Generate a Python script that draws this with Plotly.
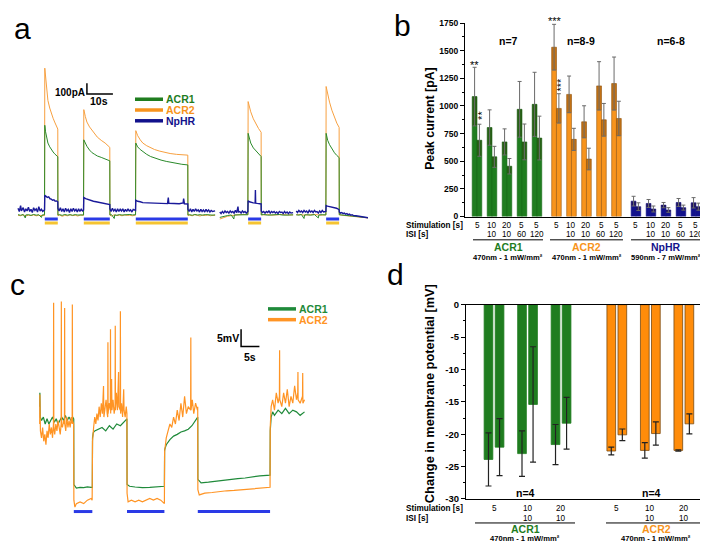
import plotly.graph_objects as go

W, H = 708, 542
FONT = "Liberation Sans, Arial, sans-serif"


def X(px):
    return px / W


def Y(py):
    return 1 - py / H


GREEN = "#1f7d1f"
ORANGE = "#f7941d"
NAVY = "#12128c"
TR_GREEN = "#2a8a2a"
TR_ORANGE = "#f7a040"
TR_BLUE = "#1a1a9a"
C_GREEN = "#1f8a3a"
C_ORANGE = "#ff9424"
LIGHT_BLUE = "#2a3ae6"
LIGHT_YELLOW = "#f5c431"

# ---------------- Panel a : example photocurrents (time s, current pA) ----------------
a_pulse_on = [10.3, 25.3, 45.3, 88.5, 118.5]
a_pulse_off = [15.3, 35.3, 65.3, 93.5, 123.5]

a_acr2 = [
    [(0, -25), (1, -30), (2, -20), (3, -32), (4, -25), (5, -28), (6, -22), (7, -30), (8, -26), (9, -24), (10.2, -28),
     (10.3, 1340), (10.9, 1160), (11.5, 1040), (12.2, 970), (12.8, 920), (13.5, 875), (14.1, 840), (14.7, 805), (15.3, 775),
     (15.35, -30), (16, -22), (17, -35), (18, -25), (19, -30), (20, -20), (21, -28), (22, -25), (23, -32), (24, -22), (25.2, -26),
     (25.3, 955), (25.9, 890), (26.5, 840), (27.5, 795), (28.5, 760), (29.5, 730), (30.5, 700), (32, 670), (33.5, 645), (35.3, 605),
     (35.35, -25), (36, -32), (37, -20), (38, -28), (39, -24), (40, -30), (41, -22), (42, -27), (43, -25), (44, -30), (45.2, -24),
     (45.3, 760), (46, 715), (47, 675), (48, 645), (49.5, 620), (51, 600), (52.5, 585), (54.5, 570), (56.5, 556), (58.5, 548),
     (61, 540), (63, 536), (65.3, 533),
     (65.35, -28), (66, -24), (67, -30), (68, -20), (69, -26), (70, -32), (71, -24), (72, -28), (73, -22), (74, -30), (75, -25), (75.8, -27)],
    [(77.6, -60), (79, -45), (80.5, -35), (82, -28), (83.5, -22), (85, -20), (86.5, -18), (88.4, -20),
     (88.5, 1030), (89, 975), (89.5, 935), (90.5, 870), (91.5, 820), (92.5, 780), (93.5, 745),
     (93.55, -20), (94.5, -22), (96, -18), (97.5, -24), (99, -20), (100.5, -22), (102, -18), (103.5, -23), (105, -20), (105.8, -22)],
    [(107, -22), (108.5, -18), (110, -24), (111.5, -20), (113, -22), (114.5, -18), (116, -24), (117.5, -20), (118.4, -22),
     (118.5, 1170), (119.1, 1090), (119.8, 1025), (120.7, 950), (121.7, 875), (122.6, 830), (123.5, 790),
     (123.55, -20), (124.5, -25), (126, -28), (128, -32), (130, -38), (132, -42), (134.6, -50)],
]

a_acr1 = [
    [(0, -20), (1, -25), (2, -18), (2.8, -50), (3, -22), (4, -20), (5, -26), (6, -18), (7, -24), (8, -20), (9, -45), (9.3, -22), (10.2, -20),
     (10.3, 810), (10.6, 750), (10.9, 705), (11.5, 645), (12.2, 610), (12.8, 585), (13.5, 562), (14.1, 545), (14.7, 530), (15.3, 518),
     (15.35, -22), (16, -20), (17, -26), (18, -18), (19, -24), (20, -20), (21, -25), (22, -19), (23, -23), (24, -20), (25.2, -22),
     (25.3, 675), (25.9, 640), (26.5, 615), (27.5, 580), (28.5, 555), (29.5, 540), (30.5, 525), (32, 512), (33.5, 500), (35.3, 480),
     (35.35, -22), (36, -20), (37, -55), (37.2, -22), (38, -25), (39, -19), (40, -23), (41, -20), (42, -24), (43, -18), (44, -22), (45.2, -20),
     (45.3, 645), (46, 610), (47, 585), (48, 565), (49.5, 540), (51, 520), (53, 500), (55, 487), (57, 475), (59, 465), (61, 455), (63, 448), (65.3, 442),
     (65.35, -22), (66, -20), (67, -25), (68, -18), (69, -23), (70, -20), (71, -24), (72, -19), (73, -22), (74, -20), (75, -24), (75.8, -21)],
    [(77.6, -45), (79, -35), (80.5, -28), (82, -22), (83, -60), (83.2, -22), (84.5, -20), (86, -18), (87.5, -22), (88.4, -20),
     (88.5, 735), (89, 680), (89.5, 645), (90.5, 600), (91.5, 570), (92.5, 540), (93.5, 520),
     (93.55, -22), (94.5, -18), (96, -24), (97.5, -20), (99, -22), (100.5, -18), (102, -24), (103.5, -20), (105, -22), (105.8, -21)],
    [(107, -20), (108, -24), (109, -18), (110, -55), (110.2, -22), (111, -20), (112.5, -24), (114, -19), (115.5, -50), (115.7, -22), (117, -20), (118.4, -22),
     (118.5, 735), (119.1, 670), (119.8, 630), (120.7, 590), (121.7, 555), (122.6, 530), (123.5, 510),
     (123.55, -20), (124.5, -22), (126, -28), (128, -30), (130, -35), (132, -40), (134.6, -48)],
]

a_nphr = [
    [(0, 40), (0.5, 10), (1, 65), (1.3, 15), (2, 45), (2.5, 5), (3, 35), (3.5, 15), (4, 50), (4.5, 10), (5, 30), (5.5, 0), (6, 45),
     (6.5, 20), (7, 35), (7.5, 5), (8, 55), (8.5, 15), (9, 30), (9.5, 10), (10.2, 25),
     (10.3, 160), (10.8, 150), (11.3, 140), (11.8, 145), (12.3, 128), (12.8, 125), (13.3, 115), (13.8, 118), (14.3, 105), (14.8, 108), (15.3, 100),
     (15.35, 40), (15.8, 15), (16.3, 45), (16.8, 10), (17.3, 35), (17.8, 5), (18.3, 40), (18.8, 15), (19.3, 30), (19.8, 0), (20.3, 35),
     (20.8, 10), (21.3, 40), (21.8, 15), (22.3, 30), (22.8, 5), (23.3, 35), (23.8, 10), (24.3, 30), (24.8, 15), (25.2, 25),
     (25.3, 140), (26, 130), (27, 120), (28, 115), (29, 105), (30, 100), (31, 95), (32, 92), (33, 85), (34, 80), (35.3, 75),
     (35.35, 35), (35.8, 10), (36.3, 40), (36.8, 15), (37.3, 30), (37.8, 5), (38.3, 35), (38.8, 10), (39.3, 30), (39.8, 15), (40.3, 35),
     (40.8, 5), (41.3, 30), (41.8, 10), (42.3, 35), (42.8, 15), (43.3, 25), (43.8, 5), (44.3, 30), (45.2, 20),
     (45.3, 115), (46, 105), (47, 100), (48, 92), (50, 90), (52, 88), (54, 85), (56, 86), (57.5, 83), (57.8, 140), (58, 85),
     (60, 84), (62, 82), (63.5, 90), (63.7, 130), (64, 82), (65.3, 80),
     (65.35, 30), (65.8, 10), (66.3, 35), (66.8, 5), (67.3, 30), (67.8, 10), (68.3, 35), (68.8, 15), (69.3, 25), (69.8, 5), (70.3, 30),
     (70.8, 10), (71.3, 25), (71.8, 5), (72.3, 30), (72.8, 10), (73.3, 25), (73.8, 5), (74.3, 20), (74.8, 10), (75.8, 15)],
    [(77.6, 5), (78.1, -10), (78.6, 10), (79.1, -5), (79.6, 15), (80.1, 0), (80.6, 10), (81.1, -5), (81.6, 15), (82.1, 0), (82.6, 10),
     (83.1, -5), (83.6, 20), (84.1, 0), (84.6, 55), (84.8, 5), (85.3, 10), (85.8, -5), (86.3, 15), (86.8, 0), (87.3, 10), (87.8, -5), (88.4, 10),
     (88.5, 110), (89, 100), (89.5, 95), (90, 92), (90.5, 90), (91.2, 88), (91.3, 210), (91.4, 88), (92, 85), (92.8, 82), (93.5, 80),
     (93.55, 15), (94, 0), (94.5, 10), (95, -5), (95.5, 10), (96, 0), (96.5, 15), (97, -5), (97.5, 10), (98, 0), (98.5, 10), (99, -5),
     (99.5, 5), (100, -10), (100.5, 10), (101, 0), (101.5, 5), (102, -10), (102.5, 10), (103, -5), (103.5, 5), (104, -10), (104.5, 5),
     (105, -5), (105.8, 0)],
    [(107, 15), (107.5, 0), (108, 20), (108.5, 5), (109, 15), (109.5, 0), (110, 20), (110.5, 5), (111, 15), (111.5, -5), (112, 20),
     (112.5, 5), (113, 15), (113.5, 0), (114, 20), (114.5, 5), (115, 10), (115.5, -5), (116, 15), (116.5, 0), (117, 20), (117.5, 5), (118.4, 10),
     (118.5, 65), (119, 60), (119.5, 58), (120, 55), (120.5, 52), (121, 50), (121.5, 48), (122, 45), (122.5, 40), (123, 35), (123.5, 25),
     (123.55, 5), (124, -5), (124.5, 0), (125, -10), (125.5, -5), (126, -15), (126.5, -10), (127, -20), (127.5, -15), (128, -25),
     (128.5, -20), (129, -28), (130, -30), (131, -35), (132, -38), (133, -42), (134.6, -48)],
]

# ---------------- Panel b : peak currents ----------------
b_groups = ["ACR1", "ACR2", "NpHR"]
b_light = ["470nm - 1 mW/mm²", "470nm - 1 mW/mm²", "590nm - 7 mW/mm²"]
b_n = ["n=7", "n=8-9", "n=6-8"]
b_stim = ["5", "10", "20", "5", "5"]
b_isi = ["", "10", "10", "60", "120"]
b_acr1_first = [1085, 805, 675, 970, 1015]
b_acr1_first_err = [265, 160, 118, 252, 290]
b_acr1_second = [690, 540, 455, 675, 710]
b_acr1_second_err = [145, 95, 70, 162, 198]
b_acr2_first = [1532, 1105, 857, 1182, 1203]
b_acr2_first_err = [207, 166, 145, 219, 240]
b_acr2_second = [978, 698, 520, 875, 887]
b_acr2_second_err = [133, 100, 98, 148, 156]
b_nphr_first = [139, 118, 103, 127, 124]
b_nphr_first_err = [44, 36, 24, 36, 47]
b_nphr_second = [89, 68, 59, 80, 89]
b_nphr_second_err = [35, 27, 21, 23, 32]
b_ticks = [0, 250, 500, 750, 1000, 1250, 1500, 1750]

# ---------------- Panel c : membrane potential traces (time s, mV) ----------------
c_pulse_on = [9.3, 23.8, 43.1]
c_pulse_off = [14.35, 34.0, 62.8]

c_acr2 = [(0, -1), (0.05, 7.5), (0.2, -3), (0.5, -5), (0.8, -2), (1.1, -6), (1.4, -4), (1.7, -7), (2.0, -3), (2.3, -5), (2.6, -1),
          (2.9, -4), (3.2, -2), (3.5, -5), (3.75, -1), (3.8, 34), (3.85, -2), (4.1, -4), (4.4, -1), (4.7, -3), (5.0, 0), (5.3, -2),
          (5.6, -4), (5.85, -1), (5.9, 34.4), (5.95, -1), (6.2, -2), (6.5, 0), (6.75, -1), (6.8, 32.5), (6.85, -1), (7.1, -3), (7.4, 1),
          (7.7, -2), (8.0, 0), (8.3, -2), (8.6, 1), (8.85, -1), (8.9, 33.5), (8.95, 0), (9.25, -1),
          (9.32, -23), (9.6, -25), (10, -24), (11, -23.5), (12, -24), (13, -23), (14, -22.5), (14.3, -23),
          (14.4, -6), (14.7, -2), (15.0, 1), (15.3, -1), (15.6, 2), (15.9, 0), (16.2, 4), (16.5, 1), (16.8, 5), (17.1, 2), (17.4, 10),
          (17.5, 1), (17.8, 3), (18.1, 6), (18.4, 2), (18.55, 1), (18.6, 22.6), (18.65, 2), (18.9, 5), (19.25, 3), (19.3, 26.4),
          (19.35, 2), (19.6, 12), (19.7, 3), (20.0, 6), (20.3, 2), (20.55, 4), (20.6, 27.4), (20.65, 3), (20.9, 8), (21.2, 3),
          (21.5, 14), (21.6, 4), (21.95, 3), (22.0, 31.6), (22.05, 2), (22.3, 5), (22.6, 1), (22.9, 9), (23.0, 3), (23.3, 1),
          (23.6, 4), (23.78, 2),
          (23.82, -21), (24.1, -23.5), (25, -23), (26, -23.5), (27, -23), (28, -23.5), (29, -23), (30, -22.5), (31, -23),
          (32, -22.5), (33, -23), (34.0, -24),
          (34.05, -9), (34.5, -5), (35, -3), (35.5, -1), (36, -2), (36.5, 1), (37, -1), (37.5, 3), (38, 0), (38.5, 5), (39, 1),
          (39.5, 7), (40, 2), (40.5, 4), (41.15, 3), (41.2, 24), (41.25, 3), (41.6, 6), (42, 2), (42.5, 5), (43.0, 3), (43.08, 4),
          (43.12, -20), (43.5, -21.5), (45, -21), (47, -20.8), (49, -20.5), (51, -20.3), (53, -20.2), (55, -20), (57, -19.8),
          (59, -19.6), (61, -19.5), (62.8, -19.3),
          (62.85, -2), (63.1, 4), (63.5, 6), (64, 3), (64.5, 8), (65, 5), (65.35, 7), (65.4, 20.3), (65.45, 6), (66, 4), (66.5, 8),
          (67, 5), (67.5, 9), (68, 4), (68.5, 7), (69, 5), (69.5, 10), (70, 6), (70.35, 8), (70.4, 14), (70.45, 6), (71, 5),
          (71.65, 7), (71.7, 13.7), (71.75, 5), (72.2, 6)]

c_acr1 = [(0, 4), (0.05, 8), (0.15, 1), (0.5, 0), (1, 1), (1.5, -1), (2, 0.5), (2.5, -1), (3, 0), (3.5, 1), (4, -0.5), (4.5, 0.5),
          (5, -1), (5.5, 0), (6, 1), (6.5, 0), (7, 1.5), (7.5, 0), (8, 1), (8.5, 0), (9, 1), (9.28, 0.5),
          (9.32, -18.5), (10, -19.5), (11, -19.3), (12, -19.4), (13, -19.2), (14, -19.3), (14.35, -19.3),
          (14.4, -5), (14.6, -3.5), (15, -3), (16, -2.5), (17, -2), (18, -3), (19, -1.5), (20, -2.5), (21, -1), (22, -1.5),
          (23, -0.5), (23.78, 0.5),
          (23.82, -18.5), (24.5, -19), (26, -19.2), (28, -19.4), (30, -19.3), (32, -19.2), (34, -19),
          (34.05, -8.5), (34.5, -7), (35.5, -5.5), (36.5, -4.5), (37.5, -4), (38.5, -3.3), (39.5, -3), (40.5, -2.5), (41.5, -1.5),
          (42.5, 0), (43.08, 1),
          (43.12, -17), (44, -18), (46, -17.8), (48, -17.5), (50, -17.2), (52, -17), (54, -16.8), (56, -16.6), (58, -16.3),
          (60, -16), (62.8, -15.8),
          (62.85, -3), (63.1, 1), (63.5, 2.5), (64, 1.5), (65, 3), (66, 2), (67, 3.5), (68, 2), (69, 3), (70, 2.5), (71, 1.5), (72.2, 2.5)]

# ---------------- Panel d : change in membrane potential ----------------
d_groups = ["ACR1", "ACR2"]
d_stim = ["5", "10", "20"]
d_isi = ["", "10", "10"]
d_acr1_first = [-23.9, -23.0, -21.6]
d_acr1_first_err = [4.1, 3.5, 3.1]
d_acr1_second = [-22.0, -15.4, -18.3]
d_acr1_second_err = [4.4, 8.9, 4.0]
d_acr2_first = [-22.6, -22.5, -22.5]
d_acr2_first_err = [0.6, 1.2, 0.1]
d_acr2_second = [-20.1, -19.9, -18.4]
d_acr2_second_err = [0.9, 1.8, 1.55]
d_ticks = [-30, -25, -20, -15, -10, -5, 0]


def unzip(segments):
    xs, ys = [], []
    for seg in segments:
        if xs:
            xs.append(None)
            ys.append(None)
        xs += [p[0] for p in seg]
        ys += [p[1] for p in seg]
    return xs, ys


def pulse_line(on, off, level):
    xs, ys = [], []
    for a, b in zip(on, off):
        xs += [a, b, None]
        ys += [level, level, None]
    return xs, ys


fig = go.Figure()

# ----- panel a traces -----
for segs, col, w in ((a_acr2, TR_ORANGE, 1.0), (a_acr1, TR_GREEN, 1.0), (a_nphr, TR_BLUE, 1.4)):
    xs, ys = unzip(segs)
    fig.add_trace(go.Scatter(x=xs, y=ys, mode="lines", line=dict(color=col, width=w), xaxis="x", yaxis="y"))
for lvl, col in ((-60, LIGHT_BLUE), (-96, LIGHT_YELLOW)):
    xs, ys = pulse_line(a_pulse_on, a_pulse_off, lvl)
    fig.add_trace(go.Scatter(x=xs, y=ys, mode="lines", line=dict(color=col, width=3), xaxis="x", yaxis="y"))
# scale bar a
fig.add_trace(go.Scatter(x=[26.5, 26.5, 36.5], y=[1200, 1100, 1100], mode="lines",
                         line=dict(color="black", width=1.5), xaxis="x", yaxis="y"))

# ----- panel c traces -----
for pts, col in ((c_acr1, C_GREEN), (c_acr2, C_ORANGE)):
    xs, ys = unzip([pts])
    fig.add_trace(go.Scatter(x=xs, y=ys, mode="lines", line=dict(color=col, width=1.2), xaxis="x4", yaxis="y4"))
xs, ys = pulse_line(c_pulse_on, c_pulse_off, -26.3)
fig.add_trace(go.Scatter(x=xs, y=ys, mode="lines", line=dict(color=LIGHT_BLUE, width=3), xaxis="x4", yaxis="y4"))
fig.add_trace(go.Scatter(x=[54.9, 54.9, 59.9], y=[26.4, 21.4, 21.4], mode="lines",
                         line=dict(color="black", width=1.5), xaxis="x4", yaxis="y4"))

# ----- panel b bars -----
b_start = [0.8, 6.1, 11.4]
b_off, b_w = 0.16, 0.32
b_sets = [
    (b_acr1_first, b_acr1_first_err, b_acr1_second, b_acr1_second_err, GREEN, "#1a6a1a"),
    (b_acr2_first, b_acr2_first_err, b_acr2_second, b_acr2_second_err, ORANGE, "#9a5a10"),
    (b_nphr_first, b_nphr_first_err, b_nphr_second, b_nphr_second_err, NAVY, NAVY),
]
b_centers = []
for gi, (f, fe, s, se, col, lcol) in enumerate(b_sets):
    centers = [b_start[gi] + i for i in range(len(f))]
    b_centers.append(centers)
    for sign, vals, errs in ((-1, f, fe), (1, s, se)):
        xx = [c + sign * b_off for c in centers]
        fig.add_trace(go.Bar(x=xx, y=vals, width=b_w, marker=dict(color=col, line=dict(color=lcol, width=0.6)),
                             xaxis="x2", yaxis="y2"))
        fig.add_trace(go.Bar(x=xx, y=errs, base=[v - e for v, e in zip(vals, errs)], width=b_w,
                             marker=dict(color="rgba(60,30,0,0.28)", line=dict(width=0)), xaxis="x2", yaxis="y2"))
        fig.add_trace(go.Scatter(x=xx, y=vals, mode="markers", marker=dict(size=1, color="rgba(0,0,0,0)"),
                                 error_y=dict(type="data", array=errs, color="#6a6a6a", thickness=1, width=2),
                                 xaxis="x2", yaxis="y2"))

# ----- panel d bars -----
d_start = [0.836, 4.5]
d_off, d_w = 0.165, 0.26
d_sets = [
    (d_acr1_first, d_acr1_first_err, d_acr1_second, d_acr1_second_err, GREEN, GREEN),
    (d_acr2_first, d_acr2_first_err, d_acr2_second, d_acr2_second_err, "#ff8c0a", "#7a4a10"),
]
d_centers = []
for gi, (f, fe, s, se, col, lcol) in enumerate(d_sets):
    centers = [d_start[gi] + i for i in range(len(f))]
    d_centers.append(centers)
    for sign, vals, errs in ((-1, f, fe), (1, s, se)):
        xx = [c + sign * d_off for c in centers]
        fig.add_trace(go.Bar(x=xx, y=vals, width=d_w, marker=dict(color=col, line=dict(color=lcol, width=0.8)),
                             xaxis="x3", yaxis="y3"))
        fig.add_trace(go.Scatter(x=xx, y=vals, mode="markers", marker=dict(size=1, color="rgba(0,0,0,0)"),
                                 error_y=dict(type="data", array=errs, color="#222222", thickness=1.2, width=3),
                                 xaxis="x3", yaxis="y3"))

# ----- annotations -----
ann = []


def txt(px, py, s, size, color="black", bold=False, xanchor="center", angle=0, xref="paper", xval=None):
    ann.append(dict(x=X(px) if xval is None else xval, y=Y(py), xref=xref, yref="paper",
                    text=f"<b>{s}</b>" if bold else s, showarrow=False, textangle=angle, borderpad=0,
                    font=dict(size=size, color=color, family=FONT), xanchor=xanchor, yanchor="middle"))


ROW = 7.6  # font size of the small label rows

# panel letters
txt(14, 15, "a", 30)
txt(394, 12, "b", 30)
txt(9, 276, "c", 30)
txt(387, 266, "d", 30)

# panel a legend & scale
for py, name, col in ((87, "ACR1", GREEN), (98, "ACR2", ORANGE), (109, "NpHR", NAVY)):
    txt(157, py, name, 10.5, col, True, "left")
txt(78, 80, "100pA", 10, bold=True, xanchor="right")
txt(91, 89, "10s", 10.5, bold=True)

# panel c legend & scale
for py, name, col in ((301, "ACR1", C_GREEN), (312, "ACR2", C_ORANGE)):
    txt(290, py, name, 10.5, col, True, "left")
txt(232, 331, "5mV", 10.5, bold=True, xanchor="right")
txt(242, 350, "5s", 10.5, bold=True)

# panel b texts
txt(422, 107, "Peak current [pA]", 12.3, bold=True, angle=-90)
for nx, ntext in zip((500, 573, 663), b_n):
    txt(nx, 28, ntext, 10.5, bold=True)
txt(397, 215.5, "Stimulation [s]", 8.2, bold=True, xanchor="left")
txt(397, 225.5, "ISI [s]", 8.2, bold=True, xanchor="left")
for centers in b_centers:
    for c, s, isi in zip(centers, b_stim, b_isi):
        txt(0, 215.5, s, 8.2, xref="x2", xval=c)
        if isi:
            txt(0, 225.5, isi, 8.2, xref="x2", xval=c)
b_lines = [(465, 535), (542, 615), (623, 693)]
b_cols = [GREEN, ORANGE, NAVY]
for (x0, x1), name, sub, col in zip(b_lines, b_groups, b_light, b_cols):
    txt((x0 + x1) / 2, 237.5, name, 10.5, col, True)
    txt((x0 + x1) / 2, 249, sub, ROW, bold=True)
# significance stars
txt(467, 52, "**", 11)
txt(474, 104, "**", 11, angle=-90)
txt(547, 7.5, "***", 11)
txt(553, 72, "***", 11, angle=-90)

# panel d texts
txt(421, 388, "Change in membrane potential [mV]", 12.8, bold=True, angle=-90)
txt(517, 489, "n=4", 10.5, bold=True)
txt(643, 489, "n=4", 10.5, bold=True)
txt(397, 504.5, "Stimulation [s]", 8.2, bold=True, xanchor="left")
txt(397, 514.5, "ISI [s]", 8.2, bold=True, xanchor="left")
for centers in d_centers:
    for c, s, isi in zip(centers, d_stim, d_isi):
        txt(0, 504.5, s, 8.2, xref="x3", xval=c)
        if isi:
            txt(0, 514.5, isi, 8.2, xref="x3", xval=c)
d_lines = [(467, 567), (598, 698)]
for (x0, x1), name, col in zip(d_lines, d_groups, [GREEN, ORANGE]):
    txt((x0 + x1) / 2, 526, name, 10.5, col, True)
    txt((x0 + x1) / 2, 535.5, "470nm - 1 mW/mm²", ROW, bold=True)

shapes = []
legend_lines = [(87, GREEN), (98, ORANGE), (109, NAVY)]
for py, col in legend_lines:
    shapes.append(dict(type="line", xref="paper", yref="paper", x0=X(127), x1=X(155), y0=Y(py), y1=Y(py),
                       line=dict(color=col, width=3.5)))
for py, col in ((301, C_GREEN), (312, C_ORANGE)):
    shapes.append(dict(type="line", xref="paper", yref="paper", x0=X(260), x1=X(288), y0=Y(py), y1=Y(py),
                       line=dict(color=col, width=3.5)))
for x0, x1 in b_lines:
    shapes.append(dict(type="line", xref="paper", yref="paper", x0=X(x0), x1=X(x1), y0=Y(230.5), y1=Y(230.5),
                       line=dict(color="black", width=1)))
for x0, x1 in d_lines:
    shapes.append(dict(type="line", xref="paper", yref="paper", x0=X(x0), x1=X(x1), y0=Y(519.5), y1=Y(519.5),
                       line=dict(color="black", width=1)))

hidden = dict(visible=False, showgrid=False, zeroline=False)
tickfont = dict(size=8.5, color="black", family=FONT)

fig.update_layout(
    width=W, height=H, margin=dict(l=0, r=0, t=0, b=0),
    paper_bgcolor="white", plot_bgcolor="white", showlegend=False, barmode="overlay",
    font=dict(family=FONT, color="black"),
    xaxis=dict(domain=[0, X(360)], range=[-3.85, 134.6], anchor="y", **hidden),
    yaxis=dict(domain=[Y(225), Y(40)], range=[-203, 1479], anchor="x", **hidden),
    xaxis4=dict(domain=[0, X(360)], range=[-8.64, 89.5], anchor="y4", **hidden),
    yaxis4=dict(domain=[Y(540), Y(280)], range=[-35.4, 38.2], anchor="x4", **hidden),
    xaxis2=dict(domain=[X(457), X(707)], range=[0, 16.67], anchor="y2", showline=True, linecolor="black",
                linewidth=1.2, ticks="", showticklabels=False, showgrid=False, zeroline=False),
    yaxis2=dict(domain=[Y(206.7), Y(9.3)], range=[0, 1750], anchor="x2", showline=True, linecolor="black",
                linewidth=1.2, ticks="outside", ticklen=4, tickwidth=1, tickcolor="black",
                tickvals=b_ticks, ticktext=[f"<b>{v}</b>" for v in b_ticks], tickfont=tickfont,
                minor=dict(ticks="outside", ticklen=2, tick0=0, dtick=125, tickcolor="black"),
                showgrid=False, zeroline=False),
    xaxis3=dict(domain=[X(458), X(705)], range=[0, 7.37], anchor="y3", showline=True, mirror=True,
                linecolor="black", linewidth=1.2, ticks="", showticklabels=False, showgrid=False, zeroline=False),
    yaxis3=dict(domain=[Y(495), Y(296.7)], range=[-30, 0], anchor="x3", showline=True, linecolor="black",
                linewidth=1.2, ticks="outside", ticklen=4, tickwidth=1, tickcolor="black",
                tickvals=d_ticks, ticktext=[f"<b>{v}</b>" for v in d_ticks],
                tickfont=dict(size=9.5, color="black", family=FONT),
                minor=dict(ticks="outside", ticklen=2, tick0=0, dtick=2.5, tickcolor="black"),
                showgrid=False, zeroline=False),
    annotations=ann, shapes=shapes,
)

fig.write_html("out.html")
